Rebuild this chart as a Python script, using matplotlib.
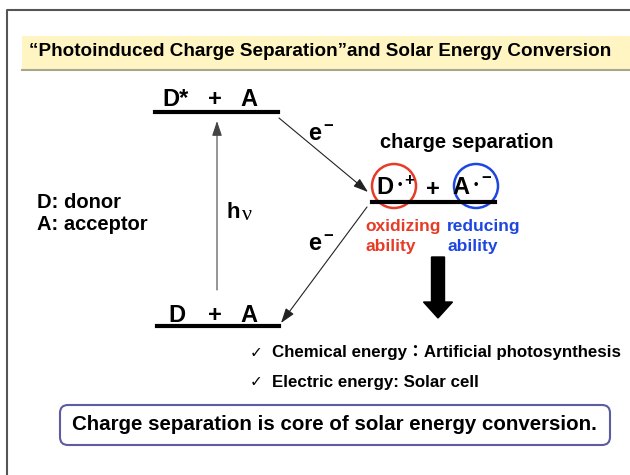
import matplotlib.pyplot as plt
from matplotlib.patches import Rectangle, Circle, FancyBboxPatch

plt.rcParams['font.family'] = ['Liberation Sans', 'DejaVu Sans']

title = "\u201cPhotoinduced Charge Separation\u201dand Solar Energy Conversion"
top_level = ['D*', '+', 'A']
bottom_level = ['D', '+', 'A']
legend_lines = ['D: donor', 'A: acceptor']
cs_label = 'charge separation'
ox_label = ['oxidizing', 'ability']
red_label = ['reducing', 'ability']
checks = ['Chemical energy\uff1aArtificial photosynthesis', 'Electric energy: Solar cell']
summary = 'Charge separation is core of solar energy conversion.'

RED = '#E63B27'
BLUE = '#1E46E0'

fig = plt.figure(figsize=(6.3, 4.75), dpi=100)
ax = fig.add_axes([0, 0, 1, 1])
ax.set_xlim(0, 630)
ax.set_ylim(475, 0)
ax.axis('off')

# outer frame (continues past the right/bottom edge)
ax.plot([7, 7, 640], [480, 10, 10], color='#555555', lw=1.5)

# title banner
ax.add_patch(Rectangle((22, 36), 620, 34, facecolor='#FFF5C2', edgecolor='none'))
ax.plot([22, 640], [70, 70], color='#A8A68C', lw=1.5)
ax.text(320, 51, title, ha='center', va='center', fontsize=13.6, fontweight='bold')

# energy levels
ax.plot([155, 278], [112, 112], color='black', lw=3)
ax.plot([157, 279], [326, 326], color='black', lw=3)
ax.plot([372, 495], [202, 202], color='black', lw=3)

for s, x in zip(top_level, [175, 215, 249]):
    ax.text(x, 100, s, ha='center', va='center', fontsize=17, fontweight='bold')
for s, x in zip(bottom_level, [177, 215, 249]):
    ax.text(x, 315, s, ha='center', va='center', fontsize=17, fontweight='bold')

# charge separated state
ax.text(385, 188, 'D', ha='center', va='center', fontsize=17, fontweight='bold')
ax.text(400, 185, '\u2022', ha='center', va='center', fontsize=9, fontweight='bold')
ax.text(409, 180, '+', ha='center', va='center', fontsize=12, fontweight='bold')
ax.text(433, 189, '+', ha='center', va='center', fontsize=17, fontweight='bold')
ax.text(461, 188, 'A', ha='center', va='center', fontsize=17, fontweight='bold')
ax.text(476, 185, '\u2022', ha='center', va='center', fontsize=9, fontweight='bold')
ax.text(486, 178, '\u2212', ha='center', va='center', fontsize=12, fontweight='bold')
ax.add_patch(Circle((394, 186), 22, fill=False, edgecolor=RED, lw=1.8))
ax.add_patch(Circle((476, 186), 22, fill=False, edgecolor=BLUE, lw=1.8))
ax.text(467, 142, cs_label, ha='center', va='center', fontsize=14.5, fontweight='bold')

ax.text(365, 226, ox_label[0], ha='left', va='center', fontsize=12.5, fontweight='bold', color=RED)
ax.text(365, 246, ox_label[1], ha='left', va='center', fontsize=12.5, fontweight='bold', color=RED)
ax.text(447, 226, red_label[0], ha='left', va='center', fontsize=12.5, fontweight='bold', color=BLUE)
ax.text(447, 246, red_label[1], ha='left', va='center', fontsize=12.5, fontweight='bold', color=BLUE)

# photo excitation and electron transfer arrows
arrow_kw = dict(arrowstyle='-|>,head_length=0.9,head_width=0.3', lw=0.8, shrinkA=0, shrinkB=0)
ax.annotate('', xy=(217, 121), xytext=(217, 290), arrowprops=dict(color='#444444', **arrow_kw))
ax.annotate('', xy=(368, 192), xytext=(279, 118), arrowprops=dict(color='#222222', **arrow_kw))
ax.annotate('', xy=(281, 323), xytext=(367, 207), arrowprops=dict(color='#222222', **arrow_kw))

ax.text(233, 213, 'h', ha='center', va='center', fontsize=16, fontweight='bold')
ax.text(247, 215, '\u03bd', ha='center', va='center', fontsize=16, family='Liberation Serif')
ax.text(315, 134, 'e', ha='center', va='center', fontsize=17, fontweight='bold')
ax.text(328, 126, '\u2212', ha='center', va='center', fontsize=12, fontweight='bold')
ax.text(315, 244, 'e', ha='center', va='center', fontsize=17, fontweight='bold')
ax.text(328, 236, '\u2212', ha='center', va='center', fontsize=12, fontweight='bold')

# legend text
ax.text(37, 203, legend_lines[0], ha='left', va='center', fontsize=14.5, fontweight='bold')
ax.text(37, 225, legend_lines[1], ha='left', va='center', fontsize=14.5, fontweight='bold')

# big black arrow
ax.arrow(438, 257, 0, 61, width=13, head_width=29, head_length=16,
         length_includes_head=True, color='black')

# check list
for s, y in zip(checks, [353, 382]):
    ax.text(256, y, '\u2713', ha='center', va='center', fontsize=11, family='DejaVu Sans')
    ax.text(272, y, s, ha='left', va='center', fontsize=12.2, fontweight='bold',
            family=['Liberation Sans', 'Noto Sans CJK JP'])

# summary box
ax.add_patch(FancyBboxPatch((60, 405), 550, 40, boxstyle='round,pad=0,rounding_size=8',
                            facecolor='white', edgecolor='#5C5CA2', lw=1.5))
ax.text(334, 425, summary, ha='center', va='center', fontsize=14.8, fontweight='bold')

fig.savefig('out.png', dpi=100, facecolor='white')
